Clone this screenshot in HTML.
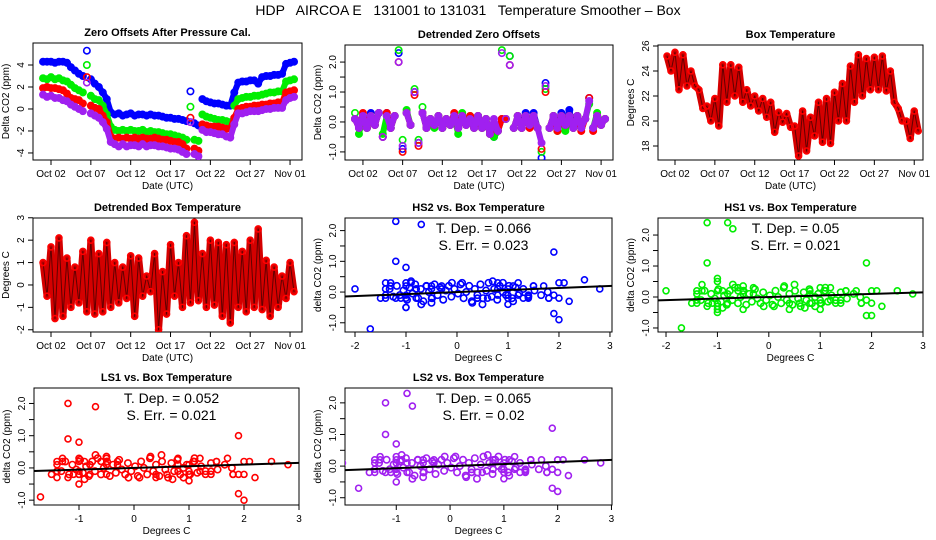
<!DOCTYPE html>
<html><head><meta charset="utf-8"><style>
html,body{margin:0;padding:0;background:#fff;}
svg{display:block;font-family:"Liberation Sans",Arial,sans-serif;}
</style></head><body>
<svg id="chart" width="936" height="540" viewBox="0 0 936 540" xmlns="http://www.w3.org/2000/svg">
<rect x="0" y="0" width="936" height="540" fill="#fff"/>
<text x="468" y="15" text-anchor="middle" font-size="14" style="white-space:pre">HDP   AIRCOA E   131001 to 131031   Temperature Smoother – Box</text>
</svg>
<script>
// ---- data (index i -> day i/2 from Oct 01) ----
const dateTickDays = [1, 6, 11, 16, 21, 26, 31];
const dateTickLabels = ["Oct 02", "Oct 07", "Oct 12", "Oct 17", "Oct 22", "Oct 27", "Nov 01"];
const zeroBlue = [4.3,4.3,4.3,4.2,4.3,4.3,4.2,3.8,3.5,3.2,3.0,5.3,2.7,2.3,2.0,1.5,0.9,-0.3,-0.5,-0.4,-0.6,-0.5,-0.4,-0.6,-0.5,-0.5,-0.6,-0.5,-0.6,-0.6,-0.7,-0.8,-0.8,-0.9,-0.9,-1.0,-1.1,1.6,-1.3,-1.5,0.9,0.7,0.6,0.5,0.5,0.4,0.3,0.3,1.5,2.4,2.5,2.5,2.6,2.6,2.3,2.9,3.0,3.0,3.1,3.1,3.2,4.1,4.2,4.3];
const zeroGreen = [2.8,2.7,2.9,2.7,2.8,2.6,2.5,2.2,1.9,1.7,1.5,4.0,1.2,0.9,0.8,0.3,-0.5,-1.6,-1.9,-2.0,-1.9,-2.0,-1.9,-2.0,-2.0,-1.9,-2.1,-2.0,-2.1,-2.1,-2.2,-2.3,-2.3,-2.4,-2.5,-2.6,-2.8,0.2,-2.8,-2.9,-0.5,-0.7,-0.8,-0.9,-1.0,-1.0,-1.1,-1.2,0.3,0.9,1.0,1.1,1.1,1.2,1.2,1.3,1.4,1.5,1.5,1.6,1.6,2.5,2.6,2.7];
const zeroRed = [1.9,2.0,1.9,1.9,1.8,1.7,1.4,1.0,0.9,0.8,0.5,2.9,0.3,0.1,0.0,-0.6,-1.2,-2.5,-2.7,-2.6,-2.7,-2.6,-2.7,-2.6,-2.7,-2.6,-2.7,-2.7,-2.6,-2.7,-2.8,-2.8,-2.9,-3.0,-3.0,-3.2,-3.6,-0.8,-3.6,-3.8,-1.4,-1.5,-1.6,-1.6,-1.6,-1.7,-1.8,-1.8,-0.8,0.0,0.1,0.2,0.2,0.3,0.3,0.4,0.4,0.5,0.5,0.6,0.6,1.5,1.6,1.7];
const zeroPurple = [1.3,1.1,1.2,1.0,1.0,0.8,0.7,0.4,0.2,0.0,-0.2,2.4,-0.4,-0.6,-0.8,-1.2,-1.8,-3.0,-3.2,-3.4,-3.2,-3.4,-3.3,-3.3,-3.4,-3.2,-3.4,-3.3,-3.3,-3.4,-3.4,-3.5,-3.6,-3.6,-3.7,-3.9,-4.1,-1.2,-4.1,-4.3,-1.9,-2.1,-2.1,-2.2,-2.3,-2.3,-2.5,-2.6,-1.4,-0.4,-0.4,-0.3,-0.2,-0.2,-0.2,-0.1,0.0,0.0,0.1,0.1,0.1,0.8,1.0,1.1];
const detBlue = [0.1,-0.2,0.2,-0.2,0.3,-0.1,0.3,-0.5,0.3,-0.2,0.2,2.3,-0.9,0.3,-0.1,1.0,-0.7,0.3,-0.2,0.1,-0.1,0.2,-0.2,0.1,-0.1,0.2,-0.2,0.2,-0.1,0.1,-0.2,0.2,-0.2,0.1,-0.4,-0.5,-0.3,0.1,0.1,2.2,-0.2,0.2,-0.2,0.3,-0.1,0.3,-0.2,-1.2,1.3,-0.2,0.2,-0.2,0.3,-0.1,0.4,-0.2,0.2,-0.2,0.1,0.8,-0.2,0.2,-0.1,0.1];
const detGreen = [0.3,-0.4,0.2,-0.2,0.2,-0.1,0.3,-0.4,0.2,-0.2,0.2,2.4,-0.6,0.4,-0.1,1.1,-0.6,0.5,-0.2,0.1,-0.2,0.2,-0.2,0.1,-0.1,0.2,-0.4,0.3,-0.1,0.2,-0.2,0.2,-0.2,0.1,-0.4,-0.5,-0.3,2.4,0.1,2.2,-0.2,0.2,-0.2,0.2,-0.1,0.2,-0.2,-1.0,1.1,-0.2,0.2,-0.3,0.2,-0.3,0.2,-0.2,0.2,-0.2,0.1,0.6,-0.2,0.3,-0.1,0.1];
const detRed = [0.1,-0.2,0.3,-0.2,0.2,-0.1,0.3,-0.5,0.3,-0.2,0.2,2.0,-1.0,0.3,-0.1,0.9,-0.8,0.3,-0.2,0.1,-0.1,0.2,-0.2,0.1,-0.1,0.3,-0.2,0.2,-0.1,0.2,-0.2,0.2,-0.2,0.1,-0.4,-0.2,-0.3,0.1,0.1,1.9,-0.2,0.2,-0.2,0.2,-0.2,0.2,-0.2,-0.9,1.0,-0.2,0.2,-0.3,0.2,-0.1,0.2,-0.2,0.2,-0.3,0.1,0.8,-0.3,0.2,-0.1,0.1];
const detPurple = [0.1,-0.2,0.2,-0.2,0.2,-0.1,0.3,-0.5,0.2,-0.2,0.2,2.0,-0.8,0.3,-0.1,1.0,-0.7,0.3,-0.2,0.1,-0.1,0.2,-0.2,0.1,-0.1,0.2,-0.2,0.2,-0.1,0.1,-0.2,0.2,-0.2,0.1,-0.4,0.1,-0.3,2.3,0.1,1.9,-0.2,0.2,-0.2,0.2,-0.1,0.2,-0.2,-0.7,1.2,-0.2,0.2,-0.2,0.2,-0.1,0.2,-0.2,0.2,-0.2,0.1,0.7,-0.2,0.2,-0.1,0.1];
const boxTemp = [25.2,24.0,25.5,22.5,25.3,22.8,24.0,22.8,22.5,21.0,21.2,20.0,21.8,19.6,24.5,21.5,24.5,22.0,24.3,21.5,22.5,21.2,22.0,20.8,21.8,20.3,21.5,19.1,20.7,19.9,20.6,19.5,19.6,17.2,20.8,17.6,20.3,18.8,21.5,18.3,21.8,18.2,22.3,20.0,23.0,20.0,24.4,21.5,25.3,22.0,25.0,22.5,25.1,22.5,25.2,22.4,24.0,21.5,21.0,20.0,20.0,18.6,20.8,19.2];
const detTemp = [1.0,-0.5,1.7,-1.5,2.1,-1.4,1.2,-1.0,0.8,-0.8,1.5,-1.2,2.0,-1.3,1.4,-1.2,1.9,-1.0,1.0,-0.8,0.8,-0.6,1.3,-1.4,1.2,-0.5,0.4,-0.3,1.4,-2.0,0.6,-1.3,1.8,-0.5,1.0,-1.0,2.2,-0.8,2.8,-0.7,1.4,-1.0,2.0,-0.9,1.9,-1.4,1.8,-1.7,1.9,-1.0,1.5,-1.2,2.0,-1.0,2.5,-1.1,1.1,-1.4,0.8,-1.0,0.4,-0.6,1.0,-0.3];
const clusterX = [-1.32,-1.25,-1.18,-1.12,-1.05,-0.98,-0.93,-0.87,-0.82,-0.76,-0.71,-0.66,-0.6,-0.55,-0.49,-0.44,-0.38,-0.33,-0.27,-0.22,-0.16,-0.11,-0.05,0.02,0.07,0.13,0.18,0.24,0.29,0.35,0.4,0.46,0.51,0.57,0.62,0.68,0.73,0.79,0.84,0.9,0.96,1.02,1.08,1.15,1.22,1.3,1.4,1.52,1.65,1.78,-0.9,-0.5,-0.1,0.3,0.7,1.1,-0.7,0.1,0.5,0.9];
const clusterYA = [0.1,-0.15,0.2,-0.1,0.05,-0.25,0.15,-0.05,0.25,-0.2,0.1,-0.3,0.2,0.0,-0.2,0.25,-0.1,0.15,-0.25,0.05,0.2,-0.15,0.1,-0.05,0.25,-0.2,0.0,0.2,-0.3,0.1,-0.1,0.25,-0.2,0.05,0.3,-0.15,0.1,-0.25,0.2,0.0,-0.1,0.2,-0.2,0.15,-0.05,0.1,-0.15,0.05,-0.1,0.0,0.35,-0.35,0.3,-0.35,0.35,-0.3,-0.4,0.3,-0.4,0.3];
const clusterYB = [-0.1,0.2,-0.2,0.1,-0.05,0.25,-0.15,0.05,-0.25,0.2,-0.1,0.3,-0.2,0.0,0.2,-0.25,0.1,-0.15,0.25,-0.05,-0.2,0.15,-0.1,0.05,-0.25,0.2,0.0,-0.2,0.3,-0.1,0.1,-0.25,0.2,-0.05,-0.3,0.15,-0.1,0.25,-0.2,0.0,0.1,-0.2,0.2,-0.15,0.05,-0.1,0.15,-0.05,0.1,0.0,-0.35,0.35,-0.3,0.35,-0.35,0.3,0.4,-0.3,0.4,-0.3];
const slopes = [0.066, 0.05, 0.052, 0.065];
const stdErrs = [0.023, 0.021, 0.021, 0.02];

const NS = "http://www.w3.org/2000/svg";
const svg = document.getElementById("chart");
function mk(tag, attrs, parent) {
  const e = document.createElementNS(NS, tag);
  for (const k in attrs) e.setAttribute(k, attrs[k]);
  (parent || svg).appendChild(e);
  return e;
}
function panel(cfg) {
  const g = mk("g", {});
  
  
  const sx = v => cfg.L + (v - cfg.x0) / (cfg.x1 - cfg.x0) * (cfg.R - cfg.L);
  const sy = v => cfg.B - (v - cfg.y0) / (cfg.y1 - cfg.y0) * (cfg.B - cfg.T);
  const t = mk("text", {x: (cfg.L + cfg.R) / 2, y: cfg.T - 7, "text-anchor": "middle", "font-size": 11, "font-weight": "bold"}, g);
  t.textContent = cfg.title;
  
  
  const box = mk("rect", {x: cfg.L, y: cfg.T, width: cfg.R - cfg.L, height: cfg.B - cfg.T, fill: "none", stroke: "#000", "stroke-width": 1}, g);
  
  
  const xa = mk("g", {}, g);
  
  
  mk("line", {x1: sx(cfg.xt[0]), x2: sx(cfg.xt[cfg.xt.length - 1]), y1: cfg.B, y2: cfg.B, stroke: "#000"}, xa);
  cfg.xt.forEach((v, i) => {
    const x = sx(v);
    mk("line", {x1: x, x2: x, y1: cfg.B, y2: cfg.B + 5, stroke: "#000"}, xa);
    const l = mk("text", {x: x, y: cfg.B + 17, "text-anchor": "middle", "font-size": 10}, xa);
    l.textContent = cfg.xl[i];
    
    
  });
  const xt = mk("text", {x: (cfg.L + cfg.R) / 2, y: cfg.B + 29, "text-anchor": "middle", "font-size": 10}, xa);
  xt.textContent = cfg.xlab;
  
  
  const ya = mk("g", {}, g);
  
  
  mk("line", {x1: cfg.L, x2: cfg.L, y1: sy(cfg.yt[0]), y2: sy(cfg.yt[cfg.yt.length - 1]), stroke: "#000"}, ya);
  cfg.yt.forEach((v, i) => {
    const y = sy(v);
    mk("line", {x1: cfg.L - 5, x2: cfg.L, y1: y, y2: y, stroke: "#000"}, ya);
    if (cfg.yl[i] !== "") {
      const l = mk("text", {x: cfg.L - 9, y: y, "text-anchor": "middle", "font-size": 10, transform: `rotate(-90 ${cfg.L - 9} ${y})`}, ya);
      l.textContent = cfg.yl[i];
      
      
    }
  });
  const yx = cfg.L - 24, yy = (cfg.T + cfg.B) / 2;
  const yt = mk("text", {x: yx, y: yy, "text-anchor": "middle", "font-size": 10, transform: `rotate(-90 ${yx} ${yy})`}, ya);
  yt.textContent = cfg.ylab;
  
  
  const cid = "clip-" + cfg.name;
  const cp = mk("clipPath", {id: cid}, g);
  mk("rect", {x: cfg.L, y: cfg.T, width: cfg.R - cfg.L, height: cfg.B - cfg.T}, cp);
  const pg = mk("g", {"clip-path": `url(#${cid})`}, g);
  
  
  return {g: pg, sx, sy, outer: g};
}
function points(p, xs, ys, color, name, r) {
  const sg = mk("g", {fill: "none", stroke: color, "stroke-width": 1.6}, p.g);
  
  
  for (let i = 0; i < ys.length; i++) {
    const c = mk("circle", {cx: p.sx(xs[i]), cy: p.sy(ys[i]), r: r || 2.8}, sg);
    
    
  }
}
// draws the overplotted band, broken where consecutive samples jump more than maxJump
function band(p, xs, ys, color, name, w, maxJump) {
  const bg = mk("g", {fill: "none", stroke: color, "stroke-width": w, "stroke-linejoin": "round", "stroke-linecap": "round"}, p.g);
  
  
  for (let i = 1; i < ys.length; i++) {
    if (Math.abs(ys[i] - ys[i - 1]) > maxJump) continue;
    const s = mk("line", {x1: p.sx(xs[i - 1]), y1: p.sy(ys[i - 1]), x2: p.sx(xs[i]), y2: p.sy(ys[i])}, bg);
    
    
  }
}
const days = zeroBlue.map((_, i) => i / 2);
const dayAxis = {x0: -1.26, x1: 32.5, xt: dateTickDays, xl: dateTickLabels, xlab: "Date (UTC)"};

// Panel 1
let p = panel(Object.assign({name: "zero-offsets-panel", title: "Zero Offsets After Pressure Cal.", L: 33, R: 302, T: 43, B: 160, y0: -4.64, y1: 6.0, yt: [-4, -2, 0, 2, 4], yl: ["-4", "-2", "0", "2", "4"], ylab: "Delta CO2 (ppm)"}, dayAxis));
[[zeroBlue, "#0000ff", "series-hs2"], [zeroGreen, "#00ee00", "series-hs1"], [zeroRed, "#ff0000", "series-ls1"], [zeroPurple, "#a020f0", "series-ls2"]].forEach(s => {
  band(p, days, s[0], s[1], s[2] + "-band", 6, 1.3);
  points(p, days, s[0], s[1], s[2], 3.2);
});

// Panel 2
p = panel(Object.assign({name: "detrended-zero-offsets-panel", title: "Detrended Zero Offsets", L: 345, R: 613, T: 45, B: 160, y0: -1.27, y1: 2.57, yt: [-1, -0.5, 0, 0.5, 1, 1.5, 2], yl: ["-1.0", "", "0.0", "", "1.0", "", "2.0"], ylab: "Delta CO2 (ppm)"}, dayAxis));
[[detBlue, "#0000ff", "series-hs2"], [detGreen, "#00ee00", "series-hs1"], [detRed, "#ff0000", "series-ls1"], [detPurple, "#a020f0", "series-ls2"]].forEach(s => {
  band(p, days, s[0], s[1], s[2] + "-band", 6, 0.65);
  points(p, days, s[0], s[1], s[2], 3.2);
});

// Panel 3
p = panel(Object.assign({name: "box-temperature-panel", title: "Box Temperature", L: 658, R: 923, T: 45, B: 160, y0: 16.88, y1: 26.08, yt: [18, 20, 22, 24, 26], yl: ["18", "20", "22", "24", "26"], ylab: "Degrees C"}, dayAxis, {x0: -1.13, x1: 32.1}));
band(p, days, boxTemp, "#d40000", "box-temp-band", 7, 99);
band(p, days, boxTemp, "#600000", "box-temp-band-core", 1, 99);
points(p, days, boxTemp, "#ff0000", "series-box-temp", 3);

// Panel 4
p = panel(Object.assign({name: "detrended-box-temperature-panel", title: "Detrended Box Temperature", L: 33, R: 302, T: 218, B: 332, y0: -2.1, y1: 2.99, yt: [-2, -1, 0, 1, 2, 3], yl: ["-2", "-1", "0", "1", "2", "3"], ylab: "Degrees C"}, dayAxis));
band(p, days, detTemp, "#d40000", "detrended-temp-band", 7, 99);
band(p, days, detTemp, "#600000", "detrended-temp-band-core", 1, 99);
points(p, days, detTemp, "#ff0000", "series-detrended-temp", 3);

// Scatter panels
const scat = [
  {name: "hs2-scatter-panel", title: "HS2 vs. Box Temperature", L: 345, R: 612, T: 218, B: 332, x0: -2.196, x1: 3.04, y0: -1.30, y1: 2.41, xt: [-2, -1, 0, 1, 2, 3], ys: detBlue, cy: clusterYA, color: "#0000ff", k: 0},
  {name: "hs1-scatter-panel", title: "HS1 vs. Box Temperature", L: 658, R: 923, T: 218, B: 332, x0: -2.156, x1: 3.0, y0: -1.13, y1: 2.55, xt: [-2, -1, 0, 1, 2, 3], ys: detGreen, cy: clusterYB, color: "#00ee00", k: 1},
  {name: "ls1-scatter-panel", title: "LS1 vs. Box Temperature", L: 34, R: 299, T: 388, B: 505, x0: -1.818, x1: 3.0, y0: -1.15, y1: 2.48, xt: [-1, 0, 1, 2, 3], ys: detRed, cy: clusterYB, color: "#ff0000", k: 2},
  {name: "ls2-scatter-panel", title: "LS2 vs. Box Temperature", L: 345, R: 612, T: 388, B: 505, x0: -1.953, x1: 3.01, y0: -1.23, y1: 2.47, xt: [-1, 0, 1, 2, 3], ys: detPurple, cy: clusterYA, color: "#a020f0", k: 3}
];
scat.forEach(s => {
  const q = panel({name: s.name, title: s.title, L: s.L, R: s.R, T: s.T, B: s.B, x0: s.x0, x1: s.x1, y0: s.y0, y1: s.y1, xt: s.xt, xl: s.xt.map(String), xlab: "Degrees C", yt: [-1, -0.5, 0, 0.5, 1, 1.5, 2], yl: ["-1.0", "", "0.0", "", "1.0", "", "2.0"], ylab: "delta CO2 (ppm)"});
  points(q, clusterX, s.cy, s.color, "scatter-cluster-points", 3.2);
  points(q, detTemp, s.ys, s.color, "scatter-points", 3);
  const m = slopes[s.k];
  const ln = mk("line", {x1: q.sx(s.x0), y1: q.sy(m * s.x0), x2: q.sx(s.x1), y2: q.sy(m * s.x1), stroke: "#000", "stroke-width": 2}, q.g);
  
  
  const cx = (s.L + s.R) / 2 + 5;
  const a = mk("text", {x: cx, y: s.T + 15, "text-anchor": "middle", "font-size": 14}, q.outer);
  a.textContent = "T. Dep. =  " + slopes[s.k];
  
  
  const b = mk("text", {x: cx, y: s.T + 32, "text-anchor": "middle", "font-size": 14}, q.outer);
  b.textContent = "S. Err. =  " + stdErrs[s.k];
  
  
});
</script>
</body></html>
